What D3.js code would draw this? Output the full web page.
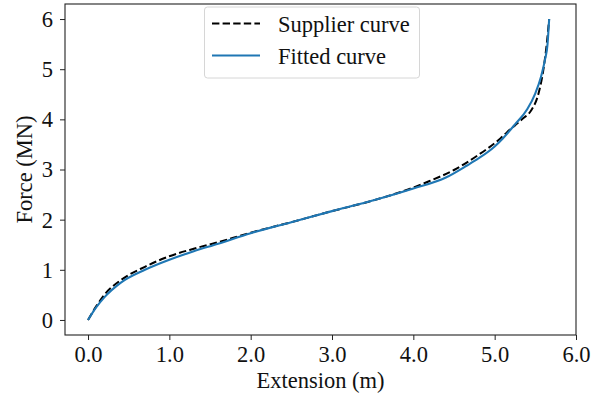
<!DOCTYPE html>
<html>
<head>
<meta charset="utf-8">
<script src="https://cdn.jsdelivr.net/npm/d3@7"></script>
<style>
  body { margin: 0; background: #fff; }
  svg text { font-family: "Liberation Serif", "Times New Roman", serif; }
</style>
</head>
<body>
<script>
// ----- Data -----
const supplierX = [0, 0.1, 0.2, 0.4, 0.7, 1.0, 1.3, 1.6, 2.0, 2.5, 3.0, 3.5, 4.0, 4.2, 4.5, 4.78, 5.07, 5.15, 5.25, 5.35, 5.45, 5.54, 5.6, 5.64, 5.67];
const supplierY = [0, 0.27, 0.5, 0.79, 1.06, 1.27, 1.42, 1.55, 1.74, 1.95, 2.17, 2.38, 2.64, 2.77, 2.99, 3.27, 3.62, 3.74, 3.88, 4.02, 4.18, 4.52, 5.0, 5.5, 6.0];

const fittedX = [0, 0.1, 0.2, 0.4, 0.7, 1.0, 1.3, 1.6, 2.0, 2.5, 3.0, 3.5, 4.0, 4.4, 4.66, 4.8, 5.0, 5.1, 5.25, 5.4, 5.5, 5.57, 5.62, 5.65, 5.67];
const fittedY = [0, 0.25, 0.45, 0.74, 1.0, 1.2, 1.37, 1.52, 1.73, 1.95, 2.17, 2.38, 2.62, 2.84, 3.08, 3.22, 3.46, 3.62, 3.9, 4.2, 4.52, 4.85, 5.2, 5.5, 6.0];

const xTicks = [0, 1, 2, 3, 4, 5, 6];
const yTicks = [0, 1, 2, 3, 4, 5, 6];
const legendLabels = ["Supplier curve", "Fitted curve"];

// ----- Layout -----
const W = 613, H = 396;
const plotLeft = 65, plotRight = 576, plotTop = 4, plotBottom = 335;
const FONT = 22.5;

const svg = d3.select("body").append("svg")
    .attr("width", W)
    .attr("height", H);

const x = d3.scaleLinear().domain([-0.283, 6.0]).range([plotLeft, plotRight]);
const y = d3.scaleLinear().domain([-0.3, 6.3]).range([plotBottom, plotTop]);

// ----- Axes -----
const xAxis = d3.axisBottom(x)
    .tickValues(xTicks)
    .tickSize(5)
    .tickFormat(d3.format(".1f"));
const yAxis = d3.axisLeft(y)
    .tickValues(yTicks)
    .tickSize(5)
    .tickPadding(7)
    .tickFormat(d3.format("d"));

const gx = svg.append("g")
    .attr("transform", `translate(0,${plotBottom})`)
    .call(xAxis);
const gy = svg.append("g")
    .attr("transform", `translate(${plotLeft},0)`)
    .call(yAxis);

[gx, gy].forEach(g => {
    g.attr("font-family", null).attr("font-size", null);
    g.select(".domain").remove();
    g.selectAll(".tick line").attr("stroke", "#222").attr("stroke-width", 1);
    g.selectAll(".tick text")
        .attr("fill", "#111")
        .style("font-size", FONT + "px");
});
gx.selectAll(".tick text").attr("y", 27).attr("dy", null);
gy.selectAll(".tick text").attr("dy", "0.33em");

// frame
svg.append("rect")
    .attr("x", plotLeft)
    .attr("y", plotTop)
    .attr("width", plotRight - plotLeft)
    .attr("height", plotBottom - plotTop)
    .attr("fill", "none")
    .attr("stroke", "#222")
    .attr("stroke-width", 1.1);

// ----- Curves -----
const line = d3.line()
    .x(d => x(d[0]))
    .y(d => y(d[1]))
    .curve(d3.curveMonotoneX);

const supplier = supplierX.map((v, i) => [v, supplierY[i]]);
const fitted = fittedX.map((v, i) => [v, fittedY[i]]);

svg.append("path")
    .datum(supplier)
    .attr("d", line)
    .attr("fill", "none")
    .attr("stroke", "#000")
    .attr("stroke-width", 2)
    .attr("stroke-dasharray", "7.4,3.2");

svg.append("path")
    .datum(fitted)
    .attr("d", line)
    .attr("fill", "none")
    .attr("stroke", "#1f77b4")
    .attr("stroke-width", 2.1);

// ----- Legend -----
const legend = svg.append("g");
legend.append("rect")
    .attr("x", 204.5)
    .attr("y", 7)
    .attr("width", 215)
    .attr("height", 71)
    .attr("rx", 3)
    .attr("fill", "#fff")
    .attr("fill-opacity", 0.8)
    .attr("stroke", "#d6d6d6")
    .attr("stroke-width", 1);

const legendStyles = [
    { stroke: "#000", dash: "7.4,3.2" },
    { stroke: "#1f77b4", dash: null }
];
legendLabels.forEach((label, i) => {
    const cy = 23.5 + i * 32;
    legend.append("line")
        .attr("x1", 212).attr("x2", 260)
        .attr("y1", cy).attr("y2", cy)
        .attr("stroke", legendStyles[i].stroke)
        .attr("stroke-width", 2)
        .attr("stroke-dasharray", legendStyles[i].dash);
    legend.append("text")
        .attr("x", 278)
        .attr("y", cy + 8)
        .attr("fill", "#111")
        .style("font-size", FONT + "px")
        .text(label);
});

// ----- Axis labels -----
svg.append("text")
    .attr("x", (plotLeft + plotRight) / 2)
    .attr("y", 388)
    .attr("text-anchor", "middle")
    .attr("fill", "#111")
    .style("font-size", FONT + "px")
    .text("Extension (m)");

svg.append("text")
    .attr("transform", `translate(32,${(plotTop + plotBottom) / 2}) rotate(-90)`)
    .attr("text-anchor", "middle")
    .attr("fill", "#111")
    .style("font-size", FONT + "px")
    .text("Force (MN)");
</script>
</body>
</html>
